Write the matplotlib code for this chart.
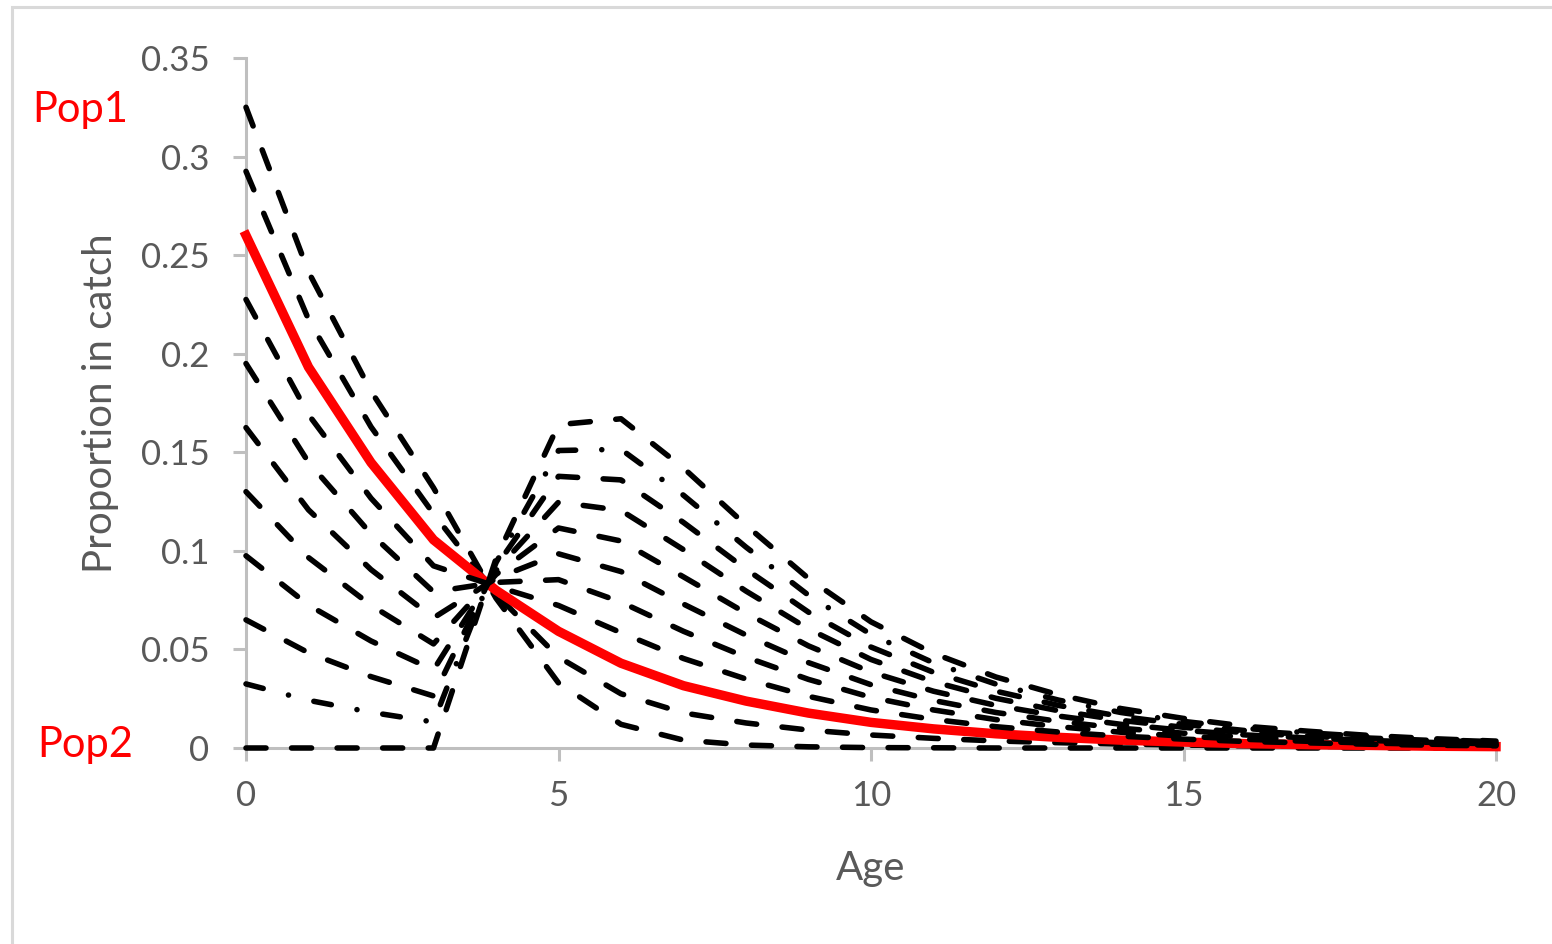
import matplotlib
matplotlib.use("Agg")
import matplotlib.pyplot as plt
from matplotlib.patches import Rectangle

# ---------- Data ----------
ages = list(range(21))

# catch share curves, Pop1 -> Pop2 in 10% steps of Pop1 share
pop1 = [0.325, 0.2415, 0.181, 0.132, 0.076, 0.033, 0.012, 0.004, 0.0015, 0.0006, 0.0002,
        0.0001, 0, 0, 0, 0, 0, 0, 0, 0, 0]
mix90 = [0.2925, 0.2174, 0.1629, 0.1188, 0.078, 0.0461, 0.0275, 0.0178, 0.0127, 0.0091, 0.0066,
         0.0049, 0.0036, 0.0027, 0.002, 0.0015, 0.0011, 0.0009, 0.0006, 0.0005, 0.0004]
mix80 = [0.26, 0.1932, 0.1448, 0.1056, 0.08, 0.0592, 0.043, 0.0316, 0.0238, 0.0177, 0.013,
         0.0097, 0.0072, 0.0054, 0.004, 0.003, 0.0022, 0.0017, 0.0013, 0.0009, 0.0007]
mix70 = [0.2275, 0.1691, 0.1267, 0.0924, 0.082, 0.0723, 0.0585, 0.0454, 0.035, 0.0262, 0.0193,
         0.0145, 0.0108, 0.0081, 0.006, 0.0045, 0.0033, 0.0026, 0.0019, 0.0014, 0.0011]
mix60 = [0.195, 0.1449, 0.1086, 0.0792, 0.084, 0.0854, 0.074, 0.0592, 0.0461, 0.0348, 0.0257,
         0.0193, 0.0144, 0.0108, 0.008, 0.006, 0.0044, 0.0034, 0.0025, 0.0019, 0.0014]
mix50 = [0.1625, 0.1208, 0.0905, 0.066, 0.086, 0.0985, 0.0895, 0.073, 0.0573, 0.0433, 0.0321,
         0.0241, 0.018, 0.0135, 0.01, 0.0075, 0.0055, 0.0043, 0.0032, 0.0024, 0.0018]
mix40 = [0.13, 0.0966, 0.0724, 0.0528, 0.088, 0.1116, 0.105, 0.0868, 0.0684, 0.0518, 0.0385,
         0.0288, 0.0216, 0.0162, 0.012, 0.009, 0.0066, 0.0051, 0.0038, 0.0028, 0.0021]
mix30 = [0.0975, 0.0725, 0.0543, 0.0396, 0.09, 0.1247, 0.1205, 0.1006, 0.0796, 0.0604, 0.0449,
         0.0336, 0.0252, 0.0189, 0.014, 0.0105, 0.0077, 0.006, 0.0044, 0.0033, 0.0025]
mix20 = [0.065, 0.0483, 0.0362, 0.0264, 0.092, 0.1378, 0.136, 0.1144, 0.0907, 0.0689, 0.0512,
         0.0384, 0.0288, 0.0216, 0.016, 0.012, 0.0088, 0.0068, 0.005, 0.0038, 0.0028]
mix10 = [0.0325, 0.0242, 0.0181, 0.0132, 0.094, 0.1509, 0.1515, 0.1282, 0.1019, 0.0775, 0.0576,
         0.0432, 0.0324, 0.0243, 0.018, 0.0135, 0.0099, 0.0077, 0.0057, 0.0042, 0.0032]
pop2 = [0, 0, 0, 0, 0.096, 0.164, 0.167, 0.142, 0.113, 0.086, 0.064,
        0.048, 0.036, 0.027, 0.02, 0.015, 0.011, 0.0085, 0.0063, 0.0047, 0.0035]

x_ticks = [0, 5, 10, 15, 20]
y_ticks = [0, 0.05, 0.1, 0.15, 0.2, 0.25, 0.3, 0.35]
y_tick_labels = ["0", "0.05", "0.1", "0.15", "0.2", "0.25", "0.3", "0.35"]

# ---------- Plot ----------
plt.rcParams['font.family'] = ['Lato', 'DejaVu Sans']
GREY_TXT = "#595959"
GREY_AX = "#BFBFBF"

fig = plt.figure(figsize=(15.52, 9.44), dpi=100)
ax = fig.add_axes([246 / 1552, 196 / 944, 1250 / 1552, 690 / 944])

dash = (3.6, 4.6)
dash_dot = (3.2, 4.7, 0.01, 4.7)

series = [pop1, mix90, mix80, mix70, mix60, mix50, mix40, mix30, mix20, mix10, pop2]
for i, ys in enumerate(series):
    if ys is mix80:
        ax.plot(ages, ys, color="#FF0000", linewidth=6.8, solid_joinstyle="miter",
                clip_on=False, zorder=3 + i)
        continue
    style = dash_dot if ys is mix10 else dash
    ax.plot(ages, ys, color="black", linewidth=4.0, dashes=style,
            dash_capstyle="round", clip_on=False, zorder=3 + i)

ax.set_xlim(0, 20)
ax.set_ylim(0, 0.35)
ax.set_xticks(x_ticks)
ax.set_xticklabels([str(t) for t in x_ticks])
ax.set_yticks(y_ticks)
ax.set_yticklabels(y_tick_labels)

for side in ["top", "right"]:
    ax.spines[side].set_visible(False)
for side in ["left", "bottom"]:
    ax.spines[side].set_color(GREY_AX)
    ax.spines[side].set_linewidth(2.2)
    ax.spines[side].set_zorder(1)

ax.tick_params(axis="both", direction="out", length=9.4, width=2.2, color=GREY_AX,
               labelcolor=GREY_TXT, labelsize=25)
ax.tick_params(axis="y", pad=17)
ax.tick_params(axis="x", pad=14)

ax.set_xlabel("Age", fontsize=29, color=GREY_TXT)
ax.set_ylabel("Proportion in catch", fontsize=29, color=GREY_TXT)
ax.xaxis.set_label_coords(0.5, (748 - 850) / 690)
ax.yaxis.set_label_coords((119 - 246) / 1250, 0.5)

# population markers on the left
fig.text(80 / 1552, 1 - 110 / 944, "Pop1", color="#FF0000", fontsize=30,
         ha="center", va="center")
fig.text(85 / 1552, 1 - 745 / 944, "Pop2", color="#FF0000", fontsize=30,
         ha="center", va="center")

# chart area border
fig.patches.append(Rectangle((12 / 1552, -0.1), 1.2, 1 - 7 / 944 + 0.1,
                             transform=fig.transFigure, fill=False,
                             edgecolor="#D9D9D9", linewidth=2.2))

fig.savefig("out.png", dpi=100)
plt.close(fig)
